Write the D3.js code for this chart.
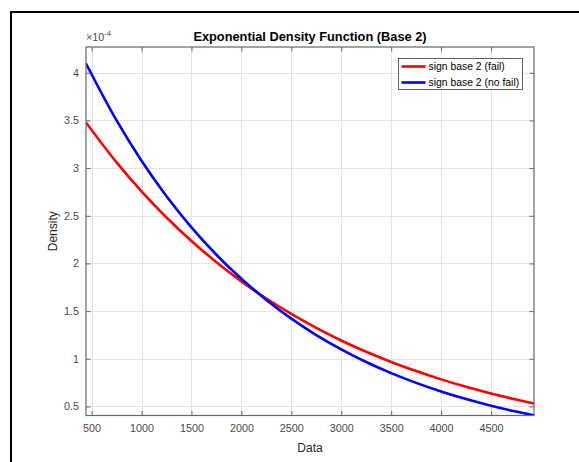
<!DOCTYPE html>
<html>
<head>
<meta charset="utf-8">
<script src="https://cdn.jsdelivr.net/npm/d3@7"></script>
<style>
  html, body { margin: 0; padding: 0; background: #fff; }
  svg { display: block; font-family: "Liberation Sans", Arial, Helvetica, sans-serif; }
</style>
</head>
<body>
<svg id="chart" width="579" height="462"></svg>
<script>
// Sampled density values (units of 1e-4) for the two series
const xValues = [444, 750, 1000, 1250, 1500, 1750, 2000, 2250, 2500, 2750, 3000,
                 3250, 3500, 3750, 4000, 4250, 4500, 4750, 4930];
const failValues = [3.479, 3.060, 2.756, 2.482, 2.235, 2.013, 1.812, 1.632, 1.470, 1.324, 1.192,
                    1.073, 0.967, 0.871, 0.784, 0.706, 0.636, 0.573, 0.531];
const noFailValues = [4.097, 3.500, 3.077, 2.705, 2.379, 2.091, 1.839, 1.617, 1.421, 1.249, 1.099,
                      0.966, 0.849, 0.747, 0.657, 0.577, 0.507, 0.446, 0.406];
const xTicks = [500, 1000, 1500, 2000, 2500, 3000, 3500, 4000, 4500];
const yTicks = [0.5, 1, 1.5, 2, 2.5, 3, 3.5, 4];
const seriesNames = ["sign base 2 (fail)", "sign base 2 (no fail)"];
const seriesColors = ["#ff0000", "#0000ff"];

const svg = d3.select("#chart");

// Figure frame
svg.append("rect")
  .attr("x", 11).attr("y", 12)
  .attr("width", 700).attr("height", 600)
  .attr("fill", "none").attr("stroke", "#000").attr("stroke-width", 2);

const pLeft = 86, pRight = 534, pTop = 47, pBottom = 415.5;
const x = d3.scaleLinear().domain([444, 4930]).range([pLeft, pRight]);
const y = d3.scaleLinear().domain([0.405, 4.27]).range([pBottom, pTop]);

const axisColor = "#666";
const textColor = "#4a4a4a";
const tickLen = 4.5;

// Grid
const grid = svg.append("g");
grid.selectAll("line.gx").data(xTicks).join("line")
  .attr("x1", d => Math.round(x(d)) + 0.5).attr("x2", d => Math.round(x(d)) + 0.5)
  .attr("y1", pTop).attr("y2", pBottom)
  .attr("stroke", "#e3e3e3").attr("stroke-width", 1);
grid.selectAll("line.gy").data(yTicks).join("line")
  .attr("y1", d => Math.round(y(d)) + 0.5).attr("y2", d => Math.round(y(d)) + 0.5)
  .attr("x1", pLeft).attr("x2", pRight)
  .attr("stroke", "#e3e3e3").attr("stroke-width", 1);

// Curves
const line = d3.line().x(d => x(d[0])).y(d => y(d[1])).curve(d3.curveMonotoneX);
const seriesData = [failValues, noFailValues];
svg.append("defs").append("clipPath").attr("id", "plotClip")
  .append("rect").attr("x", pLeft).attr("y", pTop - 2).attr("width", pRight - pLeft).attr("height", pBottom - pTop + 2);
seriesData.forEach((vals, i) => {
  svg.append("path")
    .datum(xValues.map((xv, j) => [xv, vals[j]]))
    .attr("d", line)
    .attr("fill", "none")
    .attr("stroke", seriesColors[i])
    .attr("stroke-width", 2.6)
    .attr("clip-path", "url(#plotClip)");
});

// Axes (bottom and left with labels, top and right as box ticks)
const xAxis = d3.axisBottom(x).tickValues(xTicks).tickSizeInner(-tickLen).tickSizeOuter(0).tickPadding(9)
  .tickFormat(d3.format("d"));
const yAxis = d3.axisLeft(y).tickValues(yTicks).tickSizeInner(-tickLen).tickSizeOuter(0).tickPadding(7)
  .tickFormat(d3.format("~g"));
const xAxisTop = d3.axisTop(x).tickValues(xTicks).tickSizeInner(-tickLen).tickSizeOuter(0).tickFormat("");
const yAxisRight = d3.axisRight(y).tickValues(yTicks).tickSizeInner(-tickLen).tickSizeOuter(0).tickFormat("");

function styleAxis(g) {
  g.select(".domain").remove();
  g.selectAll(".tick line").attr("stroke", axisColor);
  g.selectAll(".tick text").attr("fill", textColor).attr("font-size", 10.8)
    .attr("font-family", "'Liberation Sans', Arial, sans-serif");
}
svg.append("g").attr("transform", `translate(0,${pBottom})`).call(xAxis).call(styleAxis);
svg.append("g").attr("transform", `translate(${pLeft},0)`).call(yAxis).call(styleAxis);
svg.append("g").attr("transform", `translate(0,${pTop})`).call(xAxisTop).call(styleAxis);
svg.append("g").attr("transform", `translate(${pRight},0)`).call(yAxisRight).call(styleAxis);

// Axes box
svg.append("rect")
  .attr("x", pLeft).attr("y", pTop)
  .attr("width", pRight - pLeft).attr("height", pBottom - pTop)
  .attr("fill", "none").attr("stroke", axisColor).attr("stroke-width", 1.2);

// Exponent label
const expo = svg.append("text").attr("x", pLeft).attr("y", 41)
  .attr("fill", textColor).attr("font-size", 10.8);
expo.append("tspan").text("\u00d710");
expo.append("tspan").attr("dy", -5).attr("font-size", 7.5).text("-4");

// Title and axis labels
svg.append("text")
  .attr("x", (pLeft + pRight) / 2).attr("y", 41)
  .attr("text-anchor", "middle").attr("font-weight", "bold")
  .attr("font-size", 12.8).attr("fill", "#000")
  .text("Exponential Density Function (Base 2)");
svg.append("text")
  .attr("x", (pLeft + pRight) / 2).attr("y", 452)
  .attr("text-anchor", "middle").attr("font-size", 12).attr("fill", "#262626")
  .text("Data");
svg.append("text")
  .attr("transform", `translate(57,${(pTop + pBottom) / 2}) rotate(-90)`)
  .attr("text-anchor", "middle").attr("font-size", 12).attr("fill", "#262626")
  .text("Density");

// Legend
const lg = svg.append("g").attr("transform", "translate(398.5,58.5)");
lg.append("rect").attr("width", 124).attr("height", 31)
  .attr("fill", "#fff").attr("stroke", "#3a3a3a").attr("stroke-width", 0.8);
seriesNames.forEach((name, i) => {
  const yy = 8 + i * 16;
  lg.append("line").attr("x1", 3).attr("x2", 27).attr("y1", yy).attr("y2", yy)
    .attr("stroke", seriesColors[i]).attr("stroke-width", 2.6);
  lg.append("text").attr("x", 30).attr("y", yy + 3.7)
    .attr("font-size", 10.4).attr("fill", "#000").text(name);
});
</script>
</body>
</html>
